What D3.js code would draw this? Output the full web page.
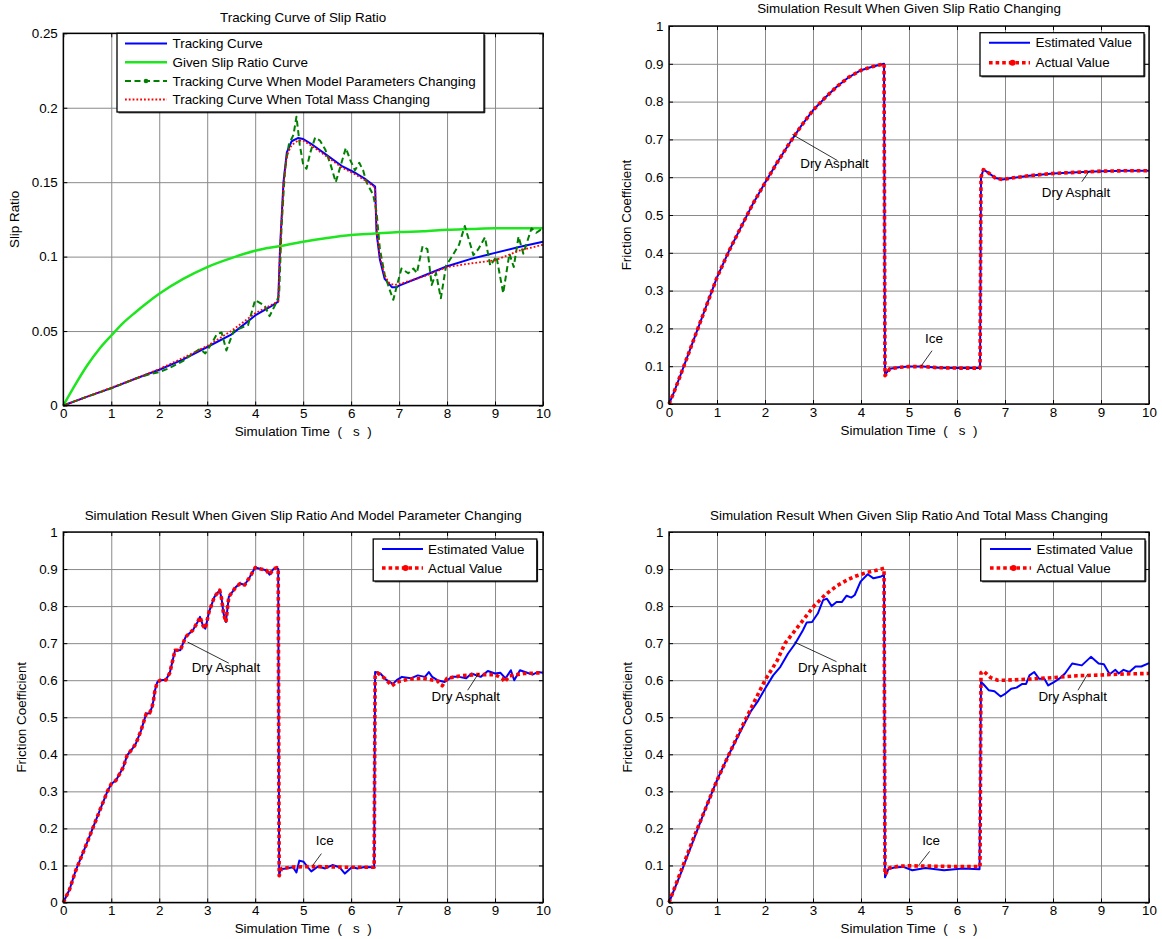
<!DOCTYPE html>
<html>
<head>
<meta charset="utf-8">
<script src="https://cdn.jsdelivr.net/npm/d3@7"></script>
<style>
  html, body { margin: 0; padding: 0; background: #fff; }
  svg { display: block; }
  text { font-family: 'Liberation Sans', Arial, Helvetica, sans-serif; fill: #000; }
</style>
</head>
<body>
<svg id="chart" width="1162" height="939"></svg>
<script>
// ---------------- DATA ----------------
const xTicks = [0, 1, 2, 3, 4, 5, 6, 7, 8, 9, 10];
const slipTicks = [0, 0.05, 0.1, 0.15, 0.2, 0.25];
const slipTickLabels = ["0", "0.05", "0.1", "0.15", "0.2", "0.25"];
const muTicks = [0, 0.1, 0.2, 0.3, 0.4, 0.5, 0.6, 0.7, 0.8, 0.9, 1];
const muTickLabels = ["0", "0.1", "0.2", "0.3", "0.4", "0.5", "0.6", "0.7", "0.8", "0.9", "1"];

// Panel 1: slip ratio (time s, slip ratio)
const trackingCurve = [[0,0],[0.5,0.006],[1,0.0117],[1.5,0.018],[2,0.024],[2.5,0.031],[3,0.0393],[3.5,0.0476],[4,0.0605],[4.3,0.066],[4.48,0.0698],[4.52,0.107],[4.59,0.150],[4.66,0.170],[4.76,0.1775],[4.9,0.1797],[5.0,0.179],[5.2,0.175],[5.5,0.168],[5.8,0.161],[6.1,0.156],[6.3,0.152],[6.46,0.148],[6.5,0.147],[6.53,0.116],[6.6,0.098],[6.7,0.085],[6.85,0.0795],[6.95,0.0795],[7.0,0.0805],[7.5,0.087],[8.0,0.0935],[8.5,0.0985],[9.0,0.1025],[9.5,0.1065],[10,0.110]];
const givenSlipCurve = [[0,0],[0.25,0.014],[0.5,0.027],[0.75,0.038],[1,0.047],[1.25,0.0555],[1.5,0.0625],[1.75,0.069],[2,0.075],[2.5,0.085],[3,0.093],[3.5,0.099],[4,0.104],[4.5,0.107],[5,0.110],[5.5,0.1125],[6,0.1145],[6.5,0.1155],[7,0.1165],[7.5,0.117],[8,0.118],[8.5,0.1185],[9,0.119],[9.5,0.119],[10,0.119]];
const modelParamCurve = [[0,0],[0.5,0.006],[1,0.0115],[1.5,0.018],[1.8,0.021],[2.0,0.0225],[2.2,0.025],[2.5,0.030],[2.7,0.035],[2.85,0.038],[2.96,0.035],[3.1,0.042],[3.2,0.048],[3.3,0.049],[3.4,0.037],[3.55,0.050],[3.7,0.052],[3.85,0.054],[4.0,0.0708],[4.2,0.067],[4.3,0.060],[4.45,0.0697],[4.5,0.075],[4.55,0.12],[4.62,0.158],[4.7,0.175],[4.8,0.182],[4.86,0.194],[4.93,0.175],[5.0,0.162],[5.07,0.159],[5.15,0.170],[5.25,0.180],[5.35,0.178],[5.46,0.172],[5.57,0.162],[5.68,0.150],[5.79,0.162],[5.89,0.173],[5.98,0.165],[6.08,0.158],[6.17,0.163],[6.25,0.158],[6.32,0.150],[6.46,0.1415],[6.53,0.13],[6.6,0.105],[6.7,0.088],[6.8,0.078],[6.88,0.071],[6.95,0.080],[7.05,0.092],[7.19,0.0888],[7.30,0.092],[7.37,0.089],[7.49,0.107],[7.59,0.105],[7.68,0.081],[7.77,0.089],[7.87,0.072],[7.98,0.094],[8.1,0.100],[8.25,0.108],[8.37,0.1206],[8.55,0.101],[8.65,0.105],[8.79,0.113],[8.9,0.094],[9.03,0.100],[9.17,0.0754],[9.30,0.102],[9.39,0.093],[9.49,0.1135],[9.59,0.102],[9.76,0.119],[9.86,0.116],[9.95,0.118],[10,0.116]];
const totalMassCurve = [[0,0],[0.5,0.006],[1,0.012],[1.5,0.018],[2,0.0245],[2.5,0.032],[3,0.040],[3.5,0.050],[4,0.062],[4.3,0.067],[4.48,0.070],[4.52,0.105],[4.59,0.148],[4.66,0.168],[4.76,0.175],[4.9,0.178],[5.0,0.178],[5.2,0.174],[5.5,0.167],[5.8,0.160],[6.1,0.155],[6.3,0.151],[6.46,0.1475],[6.5,0.146],[6.53,0.118],[6.6,0.100],[6.7,0.087],[6.8,0.082],[6.9,0.081],[7.0,0.0815],[7.5,0.0865],[8.0,0.093],[8.5,0.0955],[9.0,0.0975],[9.5,0.104],[10,0.108]];

// Panel 2: friction coefficient, given slip ratio changing
const actual2 = [[0,0],[0.1,0.03],[0.25,0.08],[0.5,0.165],[0.75,0.25],[1,0.335],[1.25,0.405],[1.5,0.468],[1.75,0.53],[2,0.585],[2.25,0.638],[2.5,0.688],[2.75,0.735],[3,0.777],[3.25,0.81],[3.5,0.84],[3.75,0.865],[4,0.883],[4.25,0.893],[4.48,0.90],[4.5,0.075],[4.6,0.093],[4.8,0.097],[5,0.099],[5.3,0.099],[5.6,0.096],[6,0.095],[6.48,0.095],[6.5,0.60],[6.55,0.62],[6.65,0.612],[6.8,0.598],[6.95,0.594],[7.1,0.597],[7.5,0.604],[8,0.610],[8.5,0.613],[9,0.616],[9.5,0.617],[10,0.617]];
const estimated2 = [[0,0],[0.1,0.03],[0.25,0.08],[0.5,0.165],[0.75,0.25],[1,0.335],[1.25,0.405],[1.5,0.468],[1.75,0.53],[2,0.585],[2.25,0.638],[2.5,0.688],[2.75,0.735],[3,0.777],[3.25,0.81],[3.5,0.84],[3.75,0.865],[4,0.883],[4.25,0.893],[4.48,0.90],[4.5,0.078],[4.6,0.093],[4.8,0.097],[5,0.099],[5.3,0.099],[5.6,0.096],[6,0.095],[6.48,0.095],[6.5,0.60],[6.55,0.62],[6.65,0.612],[6.8,0.598],[6.95,0.594],[7.1,0.597],[7.5,0.604],[8,0.610],[8.5,0.613],[9,0.616],[9.5,0.617],[10,0.617]];

// Panel 3: given slip ratio and model parameter changing
const estimated3 = [[0,0],[0.13,0.035],[0.25,0.083],[0.5,0.163],[0.75,0.245],[0.92,0.30],[1.0,0.32],[1.1,0.33],[1.25,0.365],[1.33,0.397],[1.44,0.415],[1.51,0.428],[1.62,0.464],[1.73,0.51],[1.8,0.511],[1.85,0.528],[1.88,0.545],[1.91,0.572],[1.96,0.595],[2.03,0.60],[2.14,0.601],[2.22,0.62],[2.33,0.681],[2.44,0.681],[2.55,0.717],[2.70,0.735],[2.80,0.757],[2.85,0.771],[2.91,0.748],[2.96,0.739],[3.04,0.785],[3.15,0.825],[3.26,0.843],[3.3,0.82],[3.34,0.78],[3.39,0.757],[3.45,0.825],[3.6,0.852],[3.69,0.861],[3.78,0.857],[3.89,0.879],[4.0,0.904],[4.12,0.90],[4.23,0.897],[4.3,0.885],[4.38,0.90],[4.45,0.904],[4.48,0.90],[4.5,0.072],[4.53,0.09],[4.64,0.092],[4.79,0.095],[4.86,0.081],[4.92,0.113],[5.01,0.11],[5.09,0.096],[5.17,0.084],[5.31,0.097],[5.46,0.092],[5.61,0.101],[5.76,0.095],[5.87,0.078],[6.02,0.096],[6.13,0.092],[6.28,0.096],[6.48,0.095],[6.5,0.622],[6.61,0.618],[6.72,0.602],[6.87,0.59],[6.95,0.60],[7.06,0.609],[7.24,0.605],[7.39,0.613],[7.54,0.609],[7.62,0.622],[7.69,0.609],[7.8,0.60],[7.95,0.595],[8.1,0.609],[8.25,0.609],[8.4,0.605],[8.51,0.618],[8.7,0.609],[8.85,0.625],[9.0,0.618],[9.11,0.62],[9.22,0.605],[9.33,0.627],[9.4,0.60],[9.52,0.627],[9.67,0.62],[9.78,0.615],[9.89,0.622],[10,0.62]];
const actual3 = [[0,0],[0.13,0.035],[0.25,0.083],[0.5,0.163],[0.75,0.245],[0.92,0.30],[1.0,0.32],[1.1,0.33],[1.25,0.365],[1.33,0.397],[1.44,0.415],[1.51,0.428],[1.62,0.464],[1.73,0.51],[1.8,0.511],[1.85,0.528],[1.88,0.545],[1.91,0.572],[1.96,0.595],[2.03,0.60],[2.14,0.601],[2.22,0.62],[2.33,0.681],[2.44,0.681],[2.55,0.717],[2.70,0.735],[2.80,0.757],[2.85,0.771],[2.91,0.748],[2.96,0.739],[3.04,0.785],[3.15,0.825],[3.26,0.843],[3.3,0.82],[3.34,0.78],[3.39,0.757],[3.45,0.825],[3.6,0.852],[3.69,0.861],[3.78,0.857],[3.89,0.879],[4.0,0.904],[4.12,0.90],[4.23,0.897],[4.3,0.885],[4.38,0.90],[4.45,0.904],[4.48,0.90],[4.5,0.072],[4.55,0.092],[4.8,0.096],[5.2,0.097],[5.6,0.096],[6.0,0.095],[6.48,0.095],[6.5,0.61],[6.55,0.62],[6.7,0.605],[6.85,0.585],[6.95,0.595],[7.2,0.603],[7.5,0.605],[7.8,0.598],[7.9,0.585],[8.0,0.605],[8.3,0.612],[8.6,0.615],[9.0,0.615],[9.15,0.605],[9.2,0.595],[9.3,0.612],[9.6,0.618],[10,0.62]];

// Panel 4: given slip ratio and total mass changing
const estimated4 = [[0,0],[0.25,0.08],[0.5,0.165],[0.75,0.25],[1,0.33],[1.25,0.40],[1.5,0.465],[1.7,0.515],[1.86,0.545],[2.0,0.577],[2.17,0.613],[2.32,0.636],[2.48,0.672],[2.63,0.699],[2.79,0.735],[2.87,0.756],[2.98,0.757],[3.1,0.78],[3.21,0.816],[3.29,0.82],[3.39,0.80],[3.49,0.811],[3.6,0.811],[3.7,0.828],[3.8,0.823],[3.87,0.83],[3.99,0.866],[4.14,0.886],[4.26,0.875],[4.4,0.879],[4.48,0.884],[4.5,0.068],[4.57,0.09],[4.72,0.095],[4.88,0.096],[5.07,0.087],[5.34,0.093],[5.73,0.087],[6.12,0.092],[6.47,0.09],[6.5,0.595],[6.55,0.589],[6.66,0.573],[6.78,0.57],[6.91,0.556],[7.01,0.564],[7.13,0.577],[7.24,0.58],[7.36,0.59],[7.44,0.59],[7.51,0.613],[7.61,0.622],[7.71,0.604],[7.82,0.604],[7.9,0.586],[8.02,0.595],[8.13,0.604],[8.25,0.618],[8.4,0.645],[8.6,0.64],[8.79,0.663],[8.95,0.645],[9.06,0.643],[9.18,0.616],[9.3,0.628],[9.37,0.618],[9.47,0.628],[9.59,0.622],[9.72,0.637],[9.84,0.637],[10,0.646]];
const actual4 = [[0,0],[0.25,0.085],[0.5,0.17],[0.75,0.25],[1,0.33],[1.25,0.40],[1.5,0.469],[1.75,0.535],[2,0.60],[2.25,0.652],[2.42,0.70],[2.75,0.755],[3.02,0.80],[3.25,0.83],[3.5,0.855],[3.75,0.873],[3.87,0.88],[4.1,0.89],[4.3,0.896],[4.48,0.902],[4.5,0.075],[4.6,0.094],[4.8,0.098],[5.0,0.099],[5.5,0.098],[6.0,0.097],[6.48,0.097],[6.5,0.62],[6.55,0.625],[6.7,0.607],[6.85,0.60],[7.0,0.60],[7.5,0.603],[8,0.607],[8.5,0.612],[9,0.614],[9.5,0.617],[10,0.618]];

// ---------------- DRAWING ----------------
const svg = d3.select("#chart");
const FS = 13.4;
const GRID = "#8a8a8a";
const BLUE = "#0000ff", RED = "#ff0000", LGREEN = "#1ee61e", DGREEN = "#008000";

function drawPanel(p) {
  const g = svg.append("g");
  const x = d3.scaleLinear().domain([0, 10]).range([p.left, p.right]);
  const y = d3.scaleLinear().domain(p.yDomain).range([p.bottom, p.top]);
  const w = p.right - p.left, h = p.bottom - p.top;

  // grid
  const gx = g.append("g").attr("transform", `translate(0,${p.bottom})`)
    .call(d3.axisBottom(x).tickValues(xTicks).tickSize(-h).tickFormat(""));
  const gy = g.append("g").attr("transform", `translate(${p.left},0)`)
    .call(d3.axisLeft(y).tickValues(p.yTicks).tickSize(-w).tickFormat(""));
  [gx, gy].forEach(a => {
    a.select(".domain").remove();
    a.selectAll("line").attr("stroke", GRID).attr("stroke-width", 1);
  });

  // series
  p.series.forEach(s => {
    const line = d3.line().x(d => x(d[0])).y(d => y(d[1]))
      .curve(s.smooth ? d3.curveMonotoneX : d3.curveLinear);
    g.append("path").datum(s.data).attr("d", line)
      .attr("fill", "none").attr("stroke", s.color)
      .attr("stroke-width", s.width)
      .attr("stroke-dasharray", s.dash || null)
      .attr("stroke-linejoin", "round");
  });

  // axes (inner ticks)
  const ax = [
    g.append("g").attr("transform", `translate(0,${p.bottom})`)
      .call(d3.axisBottom(x).tickValues(xTicks).tickSizeInner(-4).tickSizeOuter(0).tickPadding(3).tickFormat(d3.format("d"))),
    g.append("g").attr("transform", `translate(0,${p.top})`)
      .call(d3.axisTop(x).tickValues(xTicks).tickSizeInner(-4).tickSizeOuter(0).tickFormat("")),
    g.append("g").attr("transform", `translate(${p.left},0)`)
      .call(d3.axisLeft(y).tickValues(p.yTicks).tickSizeInner(-4).tickSizeOuter(0).tickPadding(5.5)
        .tickFormat((d, i) => p.yTickLabels[i])),
    g.append("g").attr("transform", `translate(${p.right},0)`)
      .call(d3.axisRight(y).tickValues(p.yTicks).tickSizeInner(-4).tickSizeOuter(0).tickFormat(""))
  ];
  ax.forEach(a => {
    a.select(".domain").remove();
    a.selectAll("line").attr("stroke", "#000").attr("stroke-width", 1);
    a.selectAll("text").style("font-size", FS + "px").attr("fill", "#000")
      .style("font-family", "'Liberation Sans', Arial, sans-serif");
  });

  g.append("rect").attr("x", p.left).attr("y", p.top).attr("width", w).attr("height", h)
    .attr("fill", "none").attr("stroke", "#000").attr("stroke-width", 1.4);

  // title & labels
  g.append("text").attr("x", (p.left + p.right) / 2).attr("y", p.titleY)
    .attr("text-anchor", "middle").attr("dominant-baseline", "central")
    .style("font-size", FS + "px").text(p.title);
  g.append("text").attr("x", (p.left + p.right) / 2).attr("y", p.bottom + 26)
    .attr("text-anchor", "middle").attr("dominant-baseline", "central")
    .style("font-size", FS + "px").style("white-space", "pre").text("Simulation Time  (   s  )");
  g.append("text").attr("transform", `translate(${p.yLabelX},${(p.top + p.bottom) / 2}) rotate(-90)`)
    .attr("text-anchor", "middle").attr("dominant-baseline", "central")
    .style("font-size", FS + "px").text(p.yLabel);

  // annotations
  (p.annotations || []).forEach(a => {
    g.append("line").attr("x1", x(a.x1)).attr("y1", y(a.y1)).attr("x2", x(a.x2)).attr("y2", y(a.y2))
      .attr("stroke", "#000").attr("stroke-width", 0.8);
    g.append("text").attr("x", x(a.tx)).attr("y", y(a.ty))
      .attr("text-anchor", "middle").attr("dominant-baseline", "central")
      .style("font-size", FS + "px").text(a.text);
  });

  // legend
  const L = p.legend;
  const lg = g.append("g");
  lg.append("rect").attr("x", L.x0).attr("y", L.y0).attr("width", L.x1 - L.x0).attr("height", L.y1 - L.y0)
    .attr("fill", "#fff").attr("stroke", "#000").attr("stroke-width", 1.3);
  lg.append("path").attr("d", `M${L.x0 + 1.5},${L.y1 + 0.8} H${L.x1 + 0.8} V${L.y0 + 1.5}`)
    .attr("fill", "none").attr("stroke", "#000").attr("stroke-width", 1);
  L.items.forEach((it, i) => {
    const yy = L.rows[i];
    const s = p.series[it];
    lg.append("line").attr("x1", L.s0).attr("x2", L.s1).attr("y1", yy).attr("y2", yy)
      .attr("stroke", s.color).attr("stroke-width", s.width).attr("stroke-dasharray", s.dash || null);
    if (s.marker) {
      lg.append("circle").attr("cx", (L.s0 + L.s1) / 2 + (s.markerShift || 0)).attr("cy", yy).attr("r", s.marker).attr("fill", s.color);
    }
    lg.append("text").attr("x", L.tx).attr("y", yy).attr("dominant-baseline", "central")
      .style("font-size", FS + "px").text(s.name);
  });
}

const frictionSeries = (est, act) => [
  { name: "Estimated Value", data: est, color: BLUE, width: 2 },
  { name: "Actual Value", data: act, color: RED, width: 3.6, dash: "3.6,3", marker: 3, markerShift: 3 }
];

// Panel 1
drawPanel({
  left: 63.3, right: 543, top: 33.3, bottom: 405.5,
  yDomain: [0, 0.25], yTicks: slipTicks, yTickLabels: slipTickLabels,
  title: "Tracking Curve of Slip Ratio", titleY: 17, yLabel: "Slip Ratio", yLabelX: 14,
  series: [
    { name: "Tracking Curve", data: trackingCurve, color: BLUE, width: 2 },
    { name: "Given Slip Ratio Curve", data: givenSlipCurve, color: LGREEN, width: 2.5, smooth: true },
    { name: "Tracking Curve When Model Parameters Changing", data: modelParamCurve, color: DGREEN, width: 2, dash: "6,3.5", marker: 2.3 },
    { name: "Tracking Curve When Total Mass Changing", data: totalMassCurve, color: RED, width: 1.8, dash: "1.8,2" }
  ],
  legend: { x0: 117, x1: 484, y0: 33.3, y1: 112, s0: 125, s1: 167, tx: 172.5, rows: [43.5, 62.3, 81, 99.5], items: [0, 1, 2, 3] }
});

// Panel 2
drawPanel({
  left: 669, right: 1149, top: 26, bottom: 404,
  yDomain: [0, 1], yTicks: muTicks, yTickLabels: muTickLabels,
  title: "Simulation Result When Given Slip Ratio Changing", titleY: 8.5, yLabel: "Friction Coefficient", yLabelX: 626.5,
  series: frictionSeries(estimated2, actual2),
  annotations: [
    { text: "Dry Asphalt", tx: 3.45, ty: 0.635, x1: 2.57, y1: 0.713, x2: 3.51, y2: 0.644 },
    { text: "Dry Asphalt", tx: 8.48, ty: 0.559, x1: 8.76, y1: 0.617, x2: 8.6, y2: 0.588 },
    { text: "Ice", tx: 5.52, ty: 0.172, x1: 5.48, y1: 0.141, x2: 5.25, y2: 0.1 }
  ],
  legend: { x0: 980, x1: 1144, y0: 32.7, y1: 76, s0: 989, s1: 1030, tx: 1035.5, rows: [42.7, 62.7], items: [0, 1] }
});

// Panel 3
drawPanel({
  left: 63.3, right: 543, top: 532, bottom: 902.5,
  yDomain: [0, 1], yTicks: muTicks, yTickLabels: muTickLabels,
  title: "Simulation Result When Given Slip Ratio And Model Parameter Changing", titleY: 515, yLabel: "Friction Coefficient", yLabelX: 21,
  series: frictionSeries(estimated3, actual3),
  annotations: [
    { text: "Dry Asphalt", tx: 3.39, ty: 0.633, x1: 2.59, y1: 0.703, x2: 3.45, y2: 0.646 },
    { text: "Dry Asphalt", tx: 8.39, ty: 0.557, x1: 8.66, y1: 0.619, x2: 8.43, y2: 0.573 },
    { text: "Ice", tx: 5.45, ty: 0.168, x1: 5.38, y1: 0.132, x2: 5.2, y2: 0.1 }
  ],
  legend: { x0: 373.2, x1: 536.8, y0: 539, y1: 581, s0: 382, s1: 423, tx: 428, rows: [549, 568], items: [0, 1] }
});

// Panel 4
drawPanel({
  left: 669, right: 1149, top: 532, bottom: 902.5,
  yDomain: [0, 1], yTicks: muTicks, yTickLabels: muTickLabels,
  title: "Simulation Result When Given Slip Ratio And Total Mass Changing", titleY: 515, yLabel: "Friction Coefficient", yLabelX: 627,
  series: frictionSeries(estimated4, actual4),
  annotations: [
    { text: "Dry Asphalt", tx: 3.4, ty: 0.633, x1: 2.61, y1: 0.703, x2: 3.49, y2: 0.65 },
    { text: "Dry Asphalt", tx: 8.41, ty: 0.557, x1: 8.72, y1: 0.616, x2: 8.52, y2: 0.573 },
    { text: "Ice", tx: 5.46, ty: 0.168, x1: 5.43, y1: 0.138, x2: 5.2, y2: 0.1 }
  ],
  legend: { x0: 980.7, x1: 1145, y0: 539, y1: 581, s0: 990, s1: 1031, tx: 1036.5, rows: [549, 568], items: [0, 1] }
});
</script>
</body>
</html>
